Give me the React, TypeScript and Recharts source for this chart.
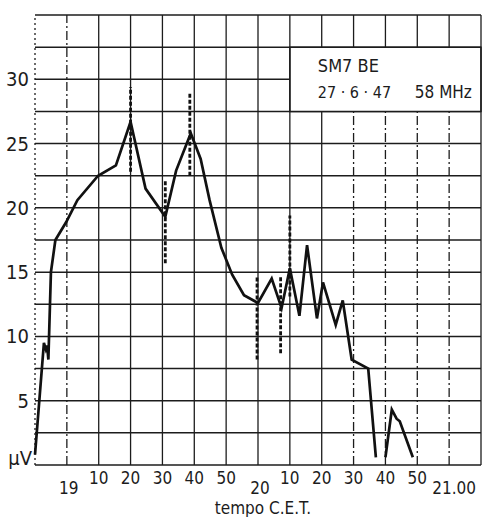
import { LineChart, Line, XAxis, YAxis, CartesianGrid, ReferenceLine, ReferenceArea } from 'recharts';

// minutes after 18:50 (tempo C.E.T.)
const MINUTES = [
  0, 2.8, 3.4, 3.8, 4.2, 5.0, 6.4, 9.8, 13.3, 19.8, 25.4, 30, 34.7, 40.9, 44.3, 48.9, 52.0,
  54.8, 58.5, 61.9, 65.6, 70.0, 74.3, 77.4, 80.0, 83.0, 85.4, 88.5, 90.4, 94.4, 96.6, 99.4,
  104.6, 107.0, 108.5, 110.0, 112.0, 113.5, 114.5, 118.6,
];
// field strength, µV (null = below the chart)
const MICROVOLTS = [
  0.8, 9.5, 9.0, 9.3, 8.2, 15.0, 17.5, 18.9, 20.6, 22.5, 23.3, 26.7, 21.5, 19.3, 22.9, 25.8, 23.8,
  20.6, 16.9, 14.8, 13.2, 12.6, 14.5, 12.2, 15.3, 11.6, 17.1, 11.4, 14.2, 10.9, 12.8, 8.2,
  7.5, 0.6, null, 0.6, 4.3, 3.6, 3.4, 0.6,
];

// dashed fading marks
const MARK_AT = [30, 40.9, 48.6, 69.7, 77.1, 80.0];
const MARK_LOW = [22.8, 15.7, 22.5, 8.2, 8.7, 13.1];
const MARK_HIGH = [29.4, 22.1, 28.9, 14.6, 14.6, 19.4];

const X_TICKS = [0, 10, 20, 30, 40, 50, 60, 70, 80, 90, 100, 110, 120, 130, 140];
const MINUTE_LABELS = ['', '', '10', '20', '30', '40', '50', '', '10', '20', '30', '40', '50', '', ''];
const HOUR_LABELS = ['', '19', '', '', '', '', '', '20', '', '', '', '', '', '21.00', ''];
const DASHED_X = [0, 10, 100, 110, 120, 130];

const Y_TICKS = [0, 2.5, 5, 7.5, 10, 12.5, 15, 17.5, 20, 22.5, 25, 27.5, 30, 32.5, 35];
const Y_LABELS = ['µV', '', '5', '', '10', '', '15', '', '20', '', '25', '', '30', '', ''];

const STATION = 'SM7 BE';
const DATE = '27 · 6 · 47';
const FREQ = '58 MHz';
const X_TITLE = 'tempo C.E.T.';

const FONT = "'Liberation Sans Narrow', 'DejaVu Sans Condensed', 'Roboto Condensed', sans-serif";
const INK = '#1c1c1c';

const data = MINUTES.map((m, i) => ({ m, v: MICROVOLTS[i] }));

const XTick = ({ x, y, payload }: any) => {
  const i = X_TICKS.indexOf(payload.value);
  return (
    <g>
      <text x={x} y={y + 11} textAnchor="middle" dominantBaseline="central"
        fontFamily={FONT} fontSize={17} fill={INK}>{MINUTE_LABELS[i]}</text>
      <text x={payload.value === 130 ? x + 5 : x + 2} y={y + 21} textAnchor="middle" dominantBaseline="central"
        fontFamily={FONT} fontSize={17} fill={INK}>{HOUR_LABELS[i]}</text>
    </g>
  );
};

const YTick = ({ x, y, payload }: any) => {
  const i = Y_TICKS.indexOf(payload.value);
  const isUnit = payload.value === 0;
  return (
    <text x={isUnit ? x + 3 : x} y={isUnit ? y - 7 : y} textAnchor="end" dominantBaseline="central"
      fontFamily={FONT} fontSize={20} fill={INK}>{Y_LABELS[i]}</text>
  );
};

const BoxLabel = ({ viewBox }: any) => {
  const { x, y } = viewBox;
  return (
    <g fontFamily={FONT} fill={INK}>
      <text x={x + 28} y={y + 18} fontSize={18} dominantBaseline="central">{STATION}</text>
      <text x={x + 28} y={y + 45} fontSize={16} dominantBaseline="central">{DATE}</text>
      <text x={x + 125} y={y + 45} fontSize={17} dominantBaseline="central">{FREQ}</text>
    </g>
  );
};

export default function App() {
  return (
    <div style={{ position: 'absolute', left: 0, top: 0, width: 482, height: 517, background: '#fff' }}>
      <LineChart width={482} height={517} data={data} margin={{ top: 15, right: 1, bottom: 0, left: 0 }}>
        <CartesianGrid vertical={false} stroke={INK} strokeWidth={1.5} />
        <XAxis dataKey="m" type="number" domain={[0, 140]} ticks={X_TICKS} height={52}
          axisLine={false} tickLine={false} tickSize={0} interval={0} tick={<XTick />} />
        <YAxis type="number" domain={[0, 35]} ticks={Y_TICKS} width={35}
          axisLine={false} tickLine={false} tickSize={0} tickMargin={6} interval={0} tick={<YTick />} />

        {X_TICKS.map((t) => {
          const dash = DASHED_X.includes(t) ? (t === 0 ? '2 3' : '9 3 2 3') : undefined;
          if (t > 80 && t < 140) {
            return [
              <ReferenceLine key={`a${t}`} segment={[{ x: t, y: 0 }, { x: t, y: 27.5 }]}
                stroke={INK} strokeWidth={1.3} strokeDasharray={dash} />,
              <ReferenceLine key={`b${t}`} segment={[{ x: t, y: 32.5 }, { x: t, y: 35 }]}
                stroke={INK} strokeWidth={1.3} />,
            ];
          }
          return <ReferenceLine key={t} x={t} stroke={INK} strokeWidth={1.3} strokeDasharray={dash} />;
        })}

        <ReferenceArea x1={80} x2={140} y1={27.5} y2={32.5} fill="#fff" fillOpacity={1}
          stroke={INK} strokeWidth={1.5} label={<BoxLabel />} />

        {MARK_AT.map((m, i) => (
          <ReferenceLine key={`mk${i}`} segment={[{ x: m, y: MARK_LOW[i] }, { x: m, y: MARK_HIGH[i] }]}
            stroke="#111" strokeWidth={2.8} strokeDasharray="4 2" />
        ))}

        <Line type="linear" dataKey="v" stroke="#111" strokeWidth={2.7} dot={false}
          isAnimationActive={false} connectNulls={false} />

        <text x={263} y={508} textAnchor="middle" dominantBaseline="central"
          fontFamily={FONT} fontSize={17} fill={INK}>{X_TITLE}</text>
      </LineChart>
    </div>
  );
}
